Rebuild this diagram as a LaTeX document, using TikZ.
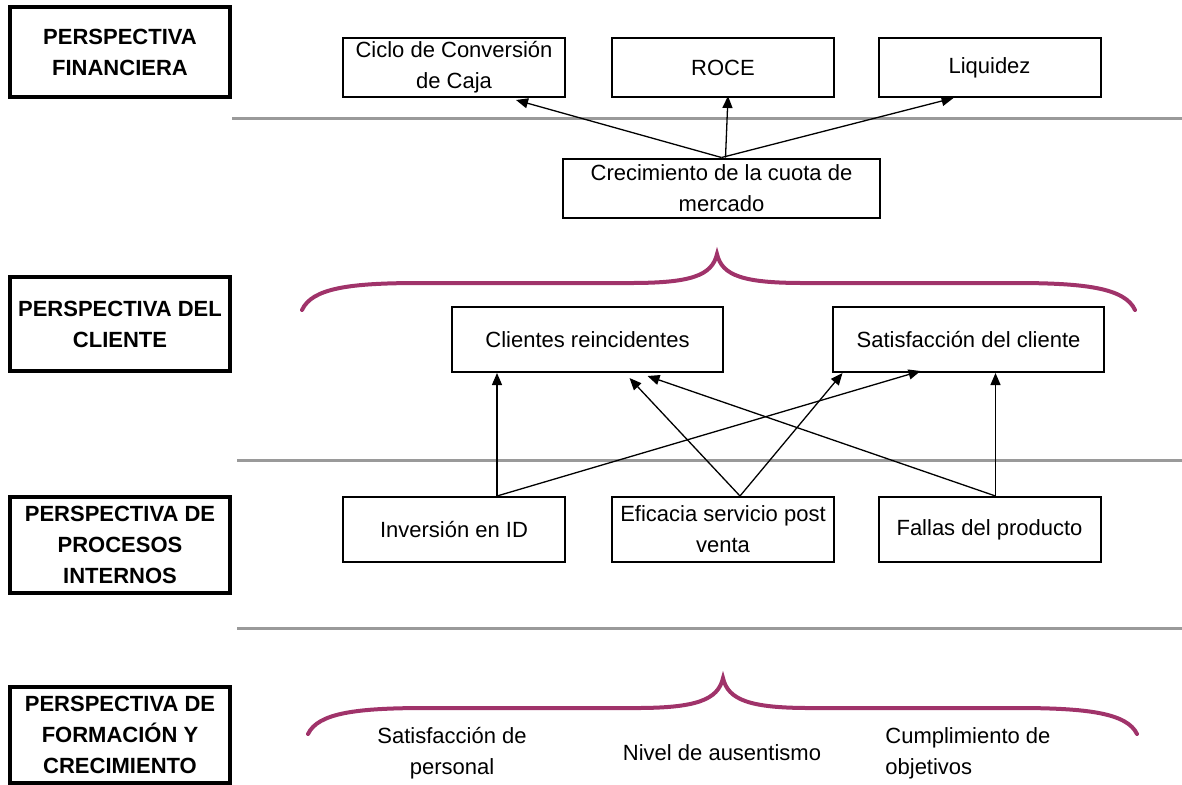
\documentclass[tikz,border=0pt]{standalone}
\usepackage{fontspec}
\setmainfont{Liberation Sans}
\usetikzlibrary{arrows.meta}
\definecolor{bscpurpura}{HTML}{A0336A}
\definecolor{bscgris}{HTML}{9A9A9A}

\begin{document}
\begin{tikzpicture}[
    x=0.5pt, y=-0.5pt,
    font=\fontsize{11pt}{15.5pt}\selectfont, >={Triangle[length=6pt,width=5pt]},
    caja/.style={draw,line width=1pt,align=center,inner sep=0pt,
                 minimum width=111pt,minimum height=29.5pt},
    persp/.style={draw,line width=1.6pt,align=center,inner sep=0pt,minimum width=110pt,
                  font=\fontsize{11pt}{15.5pt}\selectfont\bfseries},
    flecha/.style={->,line width=0.65pt},
    linea/.style={bscgris,line width=1.5pt},
    llave/.style={bscpurpura,line width=2pt,line cap=round}]

  \useasboundingbox (0,0) rectangle (1182,784);

  % --- the four perspectives, on the left
  \node[persp,minimum height=45pt] (pfin) at (120,52) {PERSPECTIVA\\FINANCIERA};
  \node[persp,minimum height=47pt] (pcli) at (120,324) {PERSPECTIVA DEL\\CLIENTE};
  \node[persp,minimum height=48pt] (ppro) at (120,545) {PERSPECTIVA DE\\PROCESOS\\INTERNOS};
  \node[persp,minimum height=48pt] (pfor) at (120,735) {PERSPECTIVA DE\\FORMACIÓN Y\\CRECIMIENTO};

  % --- separators
  \draw[linea] (232,118) -- (1182,118);
  \draw[linea] (237,460) -- (1182,460);
  \draw[linea] (237,628) -- (1182,628);

  % --- financial
  \node[caja] (ciclo) at (454,67.5) {Ciclo de Conversión\\de Caja};
  \node[caja] (roce) at (723,67.5) {ROCE};
  \node[caja] (liq) at (989.5,67.5) {Liquidez};
  \node[caja,minimum width=158.5pt] (cuota) at (721.5,188) {Crecimiento de la cuota de\\mercado};

  \draw[flecha] (cuota.north) -- ([xshift=31pt,yshift=-1pt]ciclo.south);
  \draw[flecha] ([xshift=2pt]cuota.north) -- ([xshift=2.5pt,yshift=1pt]roce.south);
  \draw[flecha] (cuota.north) -- ([xshift=-18pt]liq.south);

  % --- customer
  \draw[llave] (302,310) .. controls (312,288) and (350,283) .. (420,283)
        -- (630,283) .. controls (690,283) and (712,276) .. (717,254)
        .. controls (722,276) and (744,283) .. (804,283)
        -- (1015,283) .. controls (1085,283) and (1125,288) .. (1135,310);

  \node[caja,minimum width=135.5pt,minimum height=32.5pt] (cli) at (587.5,339.5) {Clientes reincidentes};
  \node[caja,minimum width=135.5pt,minimum height=32.5pt] (sat) at (968.5,339.5) {Satisfacción del cliente};

  % --- internal processes
  \node[caja,minimum height=32.5pt] (inv) at (454,529.5) {Inversión en ID};
  \node[caja,minimum height=32.5pt] (efi) at (723,529.5) {Eficacia servicio post\\venta};
  \node[caja,minimum height=32.5pt] (fal) at (989.5,529.5) {Fallas del producto};

  \draw[flecha] ([xshift=21.5pt]inv.north) -- ([xshift=21.5pt]inv.north |- cli.south);
  \draw[flecha] ([xshift=21.5pt]inv.north) -- ([xshift=-24pt,yshift=1pt]sat.south);
  \draw[flecha] ([xshift=8.5pt]efi.north) -- ([xshift=21pt,yshift=-2.5pt]cli.south);
  \draw[flecha] ([xshift=8.5pt]efi.north) -- ([xshift=-63pt]sat.south);
  \draw[flecha] ([xshift=3pt]fal.north) -- ([xshift=30pt,yshift=-1.5pt]cli.south);
  \draw[flecha] ([xshift=3pt]fal.north) -- ([xshift=3pt]fal.north |- sat.south);

  % --- learning and growth
  \draw[llave] (308,734) .. controls (318,713) and (356,708) .. (426,708)
        -- (636,708) .. controls (696,708) and (718,700) .. (723,678)
        .. controls (728,700) and (750,708) .. (810,708)
        -- (1017,708) .. controls (1087,708) and (1127,713) .. (1137,734);

  \node[align=center,inner sep=0pt] (spers) at (452,753) {Satisfacción de\\personal};
  \node[inner sep=0pt] (ausen) at (722,753) {Nivel de ausentismo};
  \node[align=left,inner sep=0pt,anchor=west] (objet) at (885,753) {Cumplimiento de\\objetivos};
\end{tikzpicture}
\end{document}
